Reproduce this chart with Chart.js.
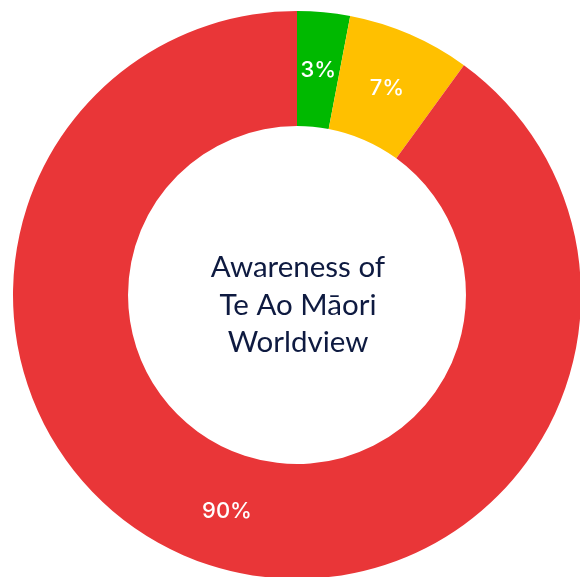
<!DOCTYPE html>
<html>
<head>
<meta charset="utf-8">
<script src="https://cdn.jsdelivr.net/npm/chart.js@4.4.1/dist/chart.umd.min.js"></script>
<style>
  html, body { margin: 0; padding: 0; background: #fff; overflow: hidden; }
  #wrap { position: absolute; left: -3px; top: -5px; width: 600px; height: 600px; }
</style>
</head>
<body>
<div id="wrap"><canvas id="myChart"></canvas></div>
<script>
var labels = ['Aware', 'Somewhat aware', 'Not aware'];
var values = [3, 7, 90];
var colors = ['#00b900', '#ffc000', '#e93638'];
var centerLines = ['Awareness of', 'Te Ao Māori', 'Worldview'];

// percentage written on each slice, at the middle of the ring
var sliceLabels = {
    id: 'sliceLabels',
    afterDatasetsDraw: function(chart) {
        var ctx = chart.ctx;
        var meta = chart.getDatasetMeta(0);
        ctx.save();
        ctx.fillStyle = '#ffffff';
        ctx.font = '500 22px Inter';
        ctx.textAlign = 'center';
        ctx.textBaseline = 'middle';
        meta.data.forEach(function(arc, i) {
            var p = arc.tooltipPosition();
            ctx.fillText(values[i] + '%', p.x, p.y + 1);
        });
        ctx.restore();
    }
};

// title in the hole of the doughnut
var centerText = {
    id: 'centerText',
    afterDraw: function(chart) {
        var ctx = chart.ctx;
        var arc = chart.getDatasetMeta(0).data[0];
        ctx.save();
        ctx.fillStyle = '#0e1a40';
        ctx.font = '29.5px Lato';
        ctx.textAlign = 'center';
        ctx.textBaseline = 'alphabetic';
        centerLines.forEach(function(line, i) {
            ctx.fillText(line, arc.x + 1, arc.y - 18 + i * 37.5);
        });
        ctx.restore();
    }
};

var myChart = document.getElementById('myChart').getContext('2d');

var test = new Chart(myChart, {
    type: 'doughnut',
    data: {
        labels: labels,
        datasets: [
            {
                data: values,
                backgroundColor: colors,
                borderWidth: 0
            }
        ]
    },
    options: {
        responsive: true,
        maintainAspectRatio: false,
        animation: false,
        cutout: '59.5%',
        layout: { padding: 16 },
        plugins: {
            legend: { display: false },
            tooltip: { enabled: false }
        }
    },
    plugins: [sliceLabels, centerText]
});
</script>
</body>
</html>
